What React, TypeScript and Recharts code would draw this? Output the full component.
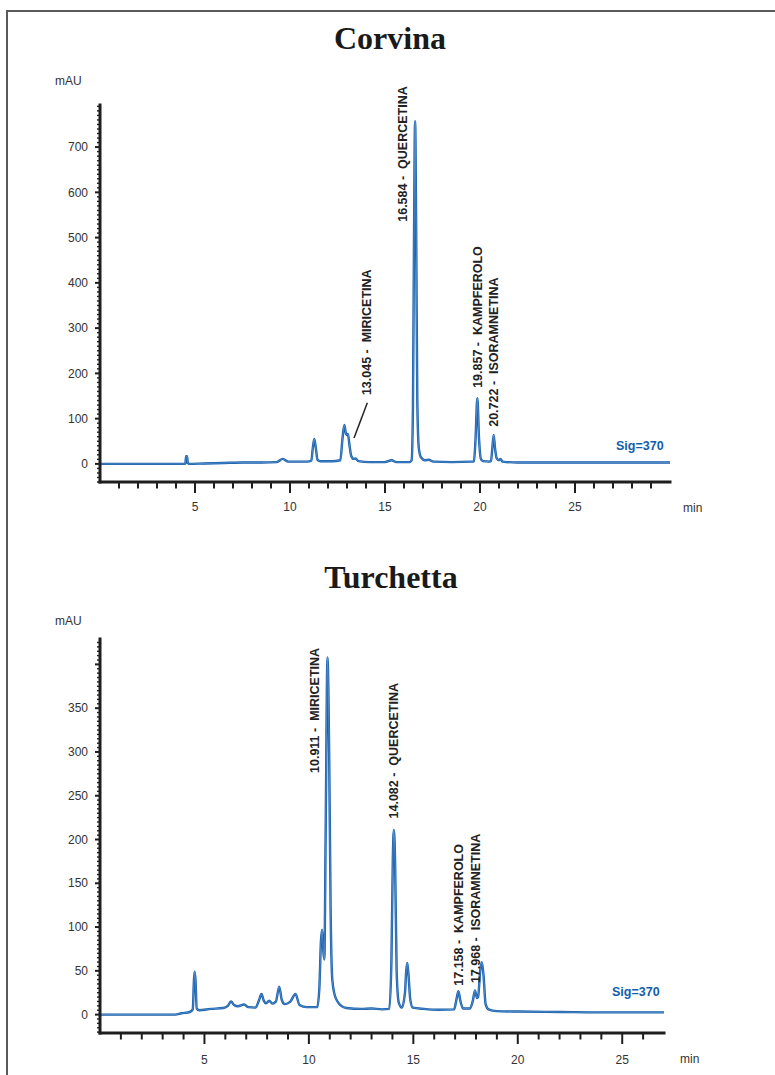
import React from 'react';
import { LineChart, Line, XAxis, YAxis, ReferenceDot, ReferenceLine } from 'recharts';

// ---------- Corvina (top) ----------
const corvinaTimes = [
  0, 4.45, 4.5, 4.53, 4.58, 4.62, 4.7, 5.5, 6.5, 7.5, 8.5, 9.3, 9.62, 9.9, 10.4, 10.9,
  11.12, 11.2, 11.28, 11.36, 11.45, 11.6, 12.2, 12.65, 12.76, 12.86, 12.95, 13.0, 13.05, 13.12,
  13.22, 13.35, 13.45, 13.6, 14.2, 15.0, 15.35, 15.6, 16.3, 16.4, 16.47, 16.53, 16.584, 16.64,
  16.7, 16.78, 16.9, 17.1, 17.3, 17.55, 18.5, 19.6, 19.68, 19.76, 19.86, 19.95, 20.04, 20.15,
  20.5, 20.58, 20.65, 20.72, 20.79, 20.88, 21.0, 21.08, 21.18, 22, 24, 26, 28, 30,
];
const corvinaMAU = [
  0, 0, 2, 17, 17, 2, 0, 1, 2, 3, 3, 4, 11, 5, 5, 5,
  7, 35, 55, 35, 9, 6, 6, 8, 55, 86, 66, 64, 66, 45,
  18, 11, 12, 6, 4, 4, 8, 4, 4, 8, 120, 520, 757, 520,
  140, 35, 14, 8, 9, 5, 4, 5, 6, 50, 145, 55, 12, 6,
  5, 7, 35, 64, 35, 12, 8, 11, 5, 3, 3, 3, 3, 3,
];
const corvinaYLabels = [0, 100, 200, 300, 400, 500, 600, 700];
const corvinaXLabels = [5, 10, 15, 20, 25];
const corvinaXTicks = [1, 2, 3, 4, 5, 6, 7, 8, 9, 10, 11, 12, 13, 14, 15, 16, 17, 18, 19, 20, 21, 22, 23, 24, 25, 26, 27, 28, 29];
const corvinaPeakLabels = ['13.045 -  MIRICETINA', '16.584 -  QUERCETINA', '19.857 -  KAMPFEROLO', '20.722 -  ISORAMNETINA'];
const corvinaLabelTimes = [14.04, 15.95, 19.88, 20.75];
const corvinaLabelMAU = [152, 535, 168, 82];

// ---------- Turchetta (bottom) ----------
const turchettaTimes = [
  0, 3.6, 3.9, 4.3, 4.44, 4.5, 4.53, 4.57, 4.63, 4.75, 5.3, 5.9, 6.12, 6.27, 6.42, 6.6, 6.9,
  7.1, 7.45, 7.62, 7.73, 7.84, 7.95, 8.1, 8.25, 8.42, 8.58, 8.7, 8.85, 9.1, 9.36, 9.55, 9.9,
  10.4, 10.5, 10.58, 10.63, 10.7, 10.74, 10.8, 10.89, 10.97, 11.04, 11.12, 11.24, 11.37, 11.55,
  11.8, 12.5, 13.0, 13.5, 13.85, 13.95, 14.02, 14.07, 14.13, 14.2, 14.3, 14.45, 14.6, 14.66,
  14.71, 14.77, 14.85, 14.97, 15.5, 16.2, 16.95, 17.07, 17.16, 17.25, 17.38, 17.7, 17.85, 17.95,
  18.05, 18.1, 18.2, 18.28, 18.36, 18.46, 18.6, 19.0, 20, 22, 24, 27,
];
const turchettaMAU = [
  0, 0, 1.5, 3, 6, 40, 49, 40, 7, 5, 6.5, 7.6, 10, 15, 11, 9.5, 11.5,
  8.5, 8, 17, 23.6, 16, 13, 16, 12.5, 15, 32, 17, 12, 14.5, 23.6, 11, 8.5,
  8.5, 30, 85, 97, 70, 63, 200, 408, 300, 120, 40, 22, 15, 10,
  7.6, 6.5, 7, 6, 6.5, 60, 180, 211, 170, 50, 14, 8, 25, 50,
  59, 45, 18, 8, 6.5, 5.5, 6, 18, 26.6, 16, 7, 7, 16, 27.7,
  19, 20, 50, 60, 45, 12, 6, 4, 3.5, 3, 2.5, 2.5,
];
const turchettaYLabels = [0, 50, 100, 150, 200, 250, 300, 350];
const turchettaYMajor = [0, 50, 100, 150, 200, 250, 300, 350, 400];
const turchettaXLabels = [5, 10, 15, 20, 25];
const turchettaXTicks = [1, 2, 3, 4, 5, 6, 7, 8, 9, 10, 11, 12, 13, 14, 15, 16, 17, 18, 19, 20, 21, 22, 23, 24, 25, 26];
const turchettaPeakLabels = ['10.911 -  MIRICETINA', '14.082 -  QUERCETINA', '17.158 -  KAMPFEROLO', '17.968 -  ISORAMNETINA'];
const turchettaLabelTimes = [10.27, 14.07, 17.17, 17.98];
const turchettaLabelMAU = [276, 224, 33, 36];

const BLUE = '#135cab';
const AXIS = '#1e1e1e';
const SANS = '"Liberation Sans", Arial, sans-serif';

function range(a: number, b: number, s: number) {
  const out: number[] = [];
  for (let v = a; v <= b + 1e-9; v += s) out.push(Math.round(v * 1000) / 1000);
  return out;
}

const makeYTick = (labels: number[], majors: number[]) => (props: any) => {
  const { x, y, payload } = props;
  const v = payload.value;
  const isMajor = majors.includes(v);
  return (
    <g>
      <line x1={x - (isMajor ? 5 : 3)} x2={x} y1={y} y2={y} stroke={AXIS} strokeWidth={isMajor ? 2 : 1.4} />
      {labels.includes(v) && (
        <text x={x - 12} y={y} dy={4.2} textAnchor="end" fontFamily={SANS} fontSize={12} fill="#333">
          {v}
        </text>
      )}
    </g>
  );
};

const makeXTick = (labels: number[], labelOffset: number) => (props: any) => {
  const { x, y, payload } = props;
  const v = payload.value;
  const isMajor = labels.includes(v);
  return (
    <g>
      <line x1={x} x2={x} y1={y} y2={y + (isMajor ? 11 : 6.5)} stroke={AXIS} strokeWidth={2} />
      {isMajor && (
        <text x={x} y={y + labelOffset} textAnchor="middle" fontFamily={SANS} fontSize={12} fill="#333">
          {v}
        </text>
      )}
    </g>
  );
};

const peakLabelShape = (text: string) => (props: any) => {
  const { cx, cy } = props;
  return (
    <text
      x={cx}
      y={cy}
      transform={`rotate(-90 ${cx} ${cy})`}
      dominantBaseline="central"
      textAnchor="start"
      fontFamily={SANS}
      fontWeight="bold"
      fontSize={12.5}
      fill="#222"
      style={{ whiteSpace: 'pre' }}
    >
      {text}
    </text>
  );
};

function Chromatogram(props: {
  times: number[];
  values: number[];
  xMax: number;
  yDomain: [number, number];
  yLabels: number[];
  yMajor: number[];
  yMinor: number[];
  xTicks: number[];
  xLabels: number[];
  labels: string[];
  labelTimes: number[];
  labelValues: number[];
  width: number;
  height: number;
  margin: { top: number; right: number; bottom: number; left: number };
  xLabelOffset: number;
  leader?: { x: number; y: number }[];
}) {
  const data = props.times.map((t, i) => ({ t, v: props.values[i] }));
  return (
    <LineChart width={props.width} height={props.height} data={data} margin={props.margin}>
      <XAxis
        dataKey="t"
        type="number"
        domain={[0, props.xMax]}
        allowDataOverflow
        ticks={props.xTicks}
        interval={0}
        tickSize={0}
        tickMargin={0}
        height={40}
        axisLine={{ stroke: AXIS, strokeWidth: 3, strokeLinecap: 'square' }}
        tickLine={false}
        tick={makeXTick(props.xLabels, props.xLabelOffset)}
      />
      <YAxis
        type="number"
        domain={props.yDomain}
        allowDataOverflow
        ticks={props.yMinor}
        interval={0}
        tickSize={0}
        tickMargin={0}
        width={100}
        axisLine={{ stroke: AXIS, strokeWidth: 3, strokeLinecap: 'square' }}
        tickLine={false}
        tick={makeYTick(props.yLabels, props.yMajor)}
      />
      <Line
        type="monotone"
        dataKey="v"
        stroke={BLUE}
        strokeWidth={2.4}
        dot={false}
        isAnimationActive={false}
      />
      <Line
        type="monotone"
        dataKey="v"
        stroke="#8fb6e3"
        strokeWidth={0.5}
        dot={false}
        isAnimationActive={false}
      />
      {props.leader && (
        <ReferenceLine segment={props.leader} stroke="#222" strokeWidth={1.5} ifOverflow="visible" />
      )}
      {props.labels.map((txt, i) => (
        <ReferenceDot
          key={txt}
          x={props.labelTimes[i]}
          y={props.labelValues[i]}
          r={0}
          ifOverflow="visible"
          shape={peakLabelShape(txt)}
        />
      ))}
    </LineChart>
  );
}

export default function App() {
  return (
    <div style={{ position: 'absolute', left: 0, top: 0, width: 775, height: 1075, background: '#fff', overflow: 'hidden' }}>
      <div style={{ position: 'absolute', left: 0, top: 0 }}>
        <Chromatogram
          times={corvinaTimes}
          values={corvinaMAU}
          xMax={30}
          yDomain={[-40, 793]}
          yLabels={corvinaYLabels}
          yMajor={corvinaYLabels}
          yMinor={range(-40, 790, 10)}
          xTicks={corvinaXTicks}
          xLabels={corvinaXLabels}
          labels={corvinaPeakLabels}
          labelTimes={corvinaLabelTimes}
          labelValues={corvinaLabelMAU}
          width={775}
          height={540}
          margin={{ top: 105, right: 105, bottom: 18, left: 0 }}
          xLabelOffset={29}
          leader={[{ x: 13.37, y: 57 }, { x: 14.07, y: 135 }]}
        />
      </div>
      <div style={{ position: 'absolute', left: 0, top: 540 }}>
        <Chromatogram
          times={turchettaTimes}
          values={turchettaMAU}
          xMax={27}
          yDomain={[-21, 429]}
          yLabels={turchettaYLabels}
          yMajor={turchettaYMajor}
          yMinor={range(-20, 425, 5)}
          xTicks={turchettaXTicks}
          xLabels={turchettaXLabels}
          labels={turchettaPeakLabels}
          labelTimes={turchettaLabelTimes}
          labelValues={turchettaLabelMAU}
          width={775}
          height={535}
          margin={{ top: 99, right: 111, bottom: 2, left: 0 }}
          xLabelOffset={31}
        />
      </div>
      <svg width={775} height={1075} style={{ position: 'absolute', left: 0, top: 0, pointerEvents: 'none' }}>
        <line x1={7} y1={11} x2={7} y2={1075} stroke="#5a5a5a" strokeWidth={2} />
        <line x1={6} y1={11} x2={775} y2={11} stroke="#5a5a5a" strokeWidth={2} />
        <text x={390} y={49} textAnchor="middle" fontFamily='"Liberation Serif", "Times New Roman", serif' fontWeight="bold" fontSize={32} fill="#1a1a1a">
          Corvina
        </text>
        <text x={391} y={588} textAnchor="middle" fontFamily='"Liberation Serif", "Times New Roman", serif' fontWeight="bold" fontSize={32} fill="#1a1a1a">
          Turchetta
        </text>
        <text x={55} y={85} fontFamily={SANS} fontSize={12} fill="#333">mAU</text>
        <text x={55} y={625} fontFamily={SANS} fontSize={12} fill="#333">mAU</text>
        <text x={683} y={512} fontFamily={SANS} fontSize={12} fill="#333">min</text>
        <text x={680} y={1063} fontFamily={SANS} fontSize={12} fill="#333">min</text>
        <text x={616} y={449.5} fontFamily={SANS} fontWeight="bold" fontSize={12.5} fill={BLUE}>Sig=370</text>
        <text x={612} y={996} fontFamily={SANS} fontWeight="bold" fontSize={12.5} fill={BLUE}>Sig=370</text>
      </svg>
    </div>
  );
}
